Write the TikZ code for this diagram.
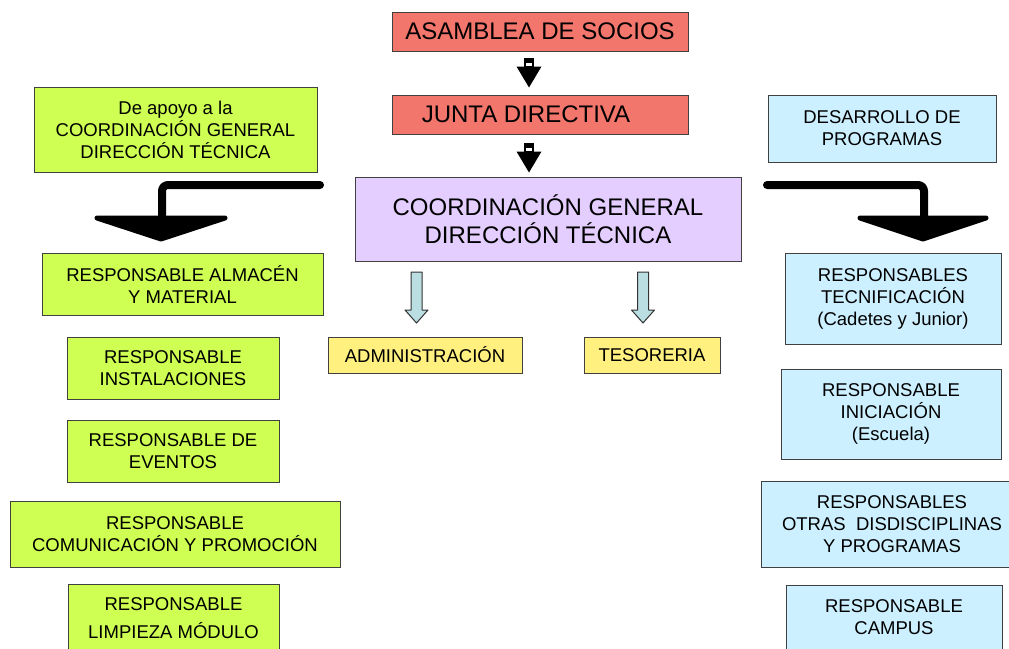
\documentclass[tikz,border=0pt]{standalone}
\usepackage{fontspec}
\setmainfont{Liberation Sans}
\usetikzlibrary{calc}

\definecolor{salmon}{RGB}{243,118,108}
\definecolor{verdelima}{RGB}{206,255,82}
\definecolor{celeste}{RGB}{204,240,255}
\definecolor{lila}{RGB}{228,206,255}
\definecolor{amarillo}{RGB}{255,240,128}
\definecolor{flechagris}{RGB}{186,222,226}

\tikzset{
  caja/.style={draw=black!75, line width=1pt, align=center, inner sep=2pt,
    font=\fontsize{18.5}{22}\selectfont},
  grande/.style={caja, font=\fontsize{24}{28}\selectfont},
  flechahueca/.style={draw=black!80, line width=1pt, fill=flechagris, line join=round},
  flechagruesa/.style={line width=8pt, line cap=round, line join=round, rounded corners=6pt},
  punta/.style={fill=black, draw=black, line width=5pt, line join=round},
}

\begin{document}
\begin{tikzpicture}[x=1pt, y=-1pt]
  \useasboundingbox (0,0) rectangle (1009,648);

  % Direccion
  \node[grande, fill=salmon, minimum width=296, minimum height=39] (asamblea) at (540,31.5) {ASAMBLEA DE SOCIOS};
  \node[grande, fill=salmon, minimum width=296, minimum height=39] (junta) at (540,114.5) {JUNTA DIRECTIVA\hspace*{28pt}};
  \node[grande, fill=lila, minimum width=386, minimum height=84] (coordinacion) at (548,219) {COORDINACIÓN GENERAL\\DIRECCIÓN TÉCNICA};

  % Cabeceras laterales
  \node[caja, fill=verdelima, minimum width=283, minimum height=85] (apoyo) at (175.5,129.5) {De apoyo a la\\COORDINACIÓN GENERAL\\DIRECCIÓN TÉCNICA};
  \node[caja, fill=celeste, minimum width=228, minimum height=67] (desarrollo) at (882,128.5) {DESARROLLO DE\\PROGRAMAS};

  % Columna izquierda
  \node[caja, fill=verdelima, minimum width=281, minimum height=62] (almacen) at (182.5,284) {RESPONSABLE ALMACÉN\\Y MATERIAL};
  \node[caja, fill=verdelima, minimum width=212, minimum height=62] (instalaciones) at (173,368) {RESPONSABLE\\INSTALACIONES};
  \node[caja, fill=verdelima, minimum width=212, minimum height=62] (eventos) at (173,451) {RESPONSABLE DE\\EVENTOS};
  \node[caja, fill=verdelima, minimum width=330, minimum height=66] (comunicacion) at (175,534) {RESPONSABLE\\COMUNICACIÓN Y PROMOCIÓN};
  \node[caja, fill=verdelima, minimum width=211, minimum height=68, font=\fontsize{18.5}{28}\selectfont] (limpieza) at (173.5,618) {RESPONSABLE\\LIMPIEZA MÓDULO};

  % Centro
  \node[caja, fill=amarillo, minimum width=194, minimum height=36] (administracion) at (425,355) {ADMINISTRACIÓN};
  \node[caja, fill=amarillo, minimum width=136, minimum height=36] (tesoreria) at (652,355) {TESORERIA};

  % Columna derecha
  \node[caja, fill=celeste, minimum width=216, minimum height=91] (tecnificacion) at (893,298.5) {RESPONSABLES\\TECNIFICACIÓN\\(Cadetes y Junior)};
  \node[caja, fill=celeste, minimum width=220, minimum height=90] (iniciacion) at (891,414) {RESPONSABLE\\INICIACIÓN\\(Escuela)};
  \node[caja, fill=celeste, minimum width=262, minimum height=86] (otras) at (892,524) {RESPONSABLES\\OTRAS\ \ DISDISCIPLINAS\\Y PROGRAMAS};
  \node[caja, fill=celeste, minimum width=216, minimum height=64] (campus) at (894,617) {RESPONSABLE\\CAMPUS};

  % Flechas negras pequenas
  \coordinate (f1) at ($(asamblea.south)+(-11,6)$);
  \coordinate (f2) at ($(junta.south)+(-11,8)$);
  \foreach \c in {f1,f2} {
    \fill ($(\c)+(-5,0)$) rectangle ($(\c)+(5,9)$);
    \fill ($(\c)+(-12.5,9)$) -- ($(\c)+(12.5,9)$) -- ($(\c)+(0,30)$) -- cycle;
    \fill[white] ($(\c)+(-3,5.5)$) rectangle ($(\c)+(3,8)$);
  }

  % Flechas huecas
  \coordinate (h1) at (416.5,272);
  \coordinate (h2) at (643,272);
  \foreach \c in {h1,h2} {
    \draw[flechahueca] ($(\c)+(-5.5,0)$) -- ($(\c)+(5.5,0)$) -- ($(\c)+(5.5,38)$) -- ($(\c)+(11.5,38)$)
      -- ($(\c)+(0,51)$) -- ($(\c)+(-11.5,38)$) -- ($(\c)+(-5.5,38)$) -- cycle;
  }

  % Flechas gruesas laterales
  \coordinate (izq) at (320,185);
  \coordinate (der) at (767,185);
  \draw[flechagruesa] (izq) -- (162,185) -- (162,216);
  \filldraw[punta] (97,218) -- (225,218) -- (161,239) -- cycle;
  \draw[flechagruesa] (der) -- (924,185) -- (924,216);
  \filldraw[punta] (860,218) -- (986,218) -- (923,239) -- cycle;
\end{tikzpicture}
\end{document}
